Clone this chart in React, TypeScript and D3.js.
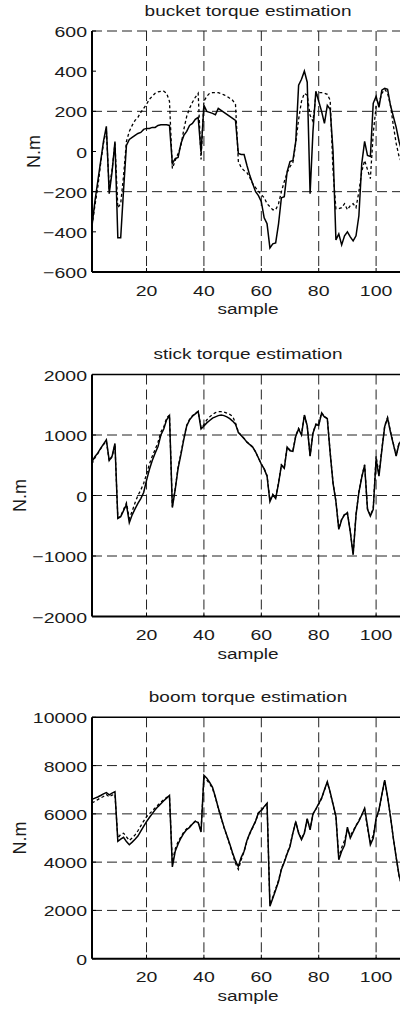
import React from "react";
import * as d3 from "d3";

// sample index 1..110
const samples: number[] = d3.range(1, 111);

// ---------- bucket ----------
const bucketMeasured: number[] = [
  -370, -250, -150, -50, 50, 125, -210, -100, 50, -430,
  -430, -190, 30, 60, 70, 80, 90, 95, 110, 115,
  115, 120, 120, 130, 133, 133, 133, 130, -60, -35,
  -30, 40, 80, 100, 130, 140, 160, 170, -5, 230,
  200, 195, 190, 183, 215, 205, 195, 185, 175, 165,
  155, -10, -15, -15, -70, -120, -160, -200, -220, -250,
  -330, -360, -480, -460, -455, -360, -230, -225, -100, -50,
  -45, 50, 330, 360, 400, 345, -210, 100, 300, 250,
  200, 140, 230, 210, 0, -440, -410, -465, -420, -400,
  -425, -445, -420, -320, -60, 50, -20, -25, 240, 275,
  220, 305, 315, 310, 230, 175, 120, 50, 0, -50,
];
const bucketEstimated: number[] = [
  -370, -270, -180, -60, 40, 110, -190, -90, 40, -280,
  -260, -120, 50, 100, 130, 155, 170, 195, 215, 235,
  260, 275, 290, 297, 300, 300, 290, 250, -85, -45,
  -10, 30, 110, 175, 215, 245, 270, 290, -40, 250,
  275, 290, 293, 293, 293, 288, 282, 275, 265, 255,
  235, -50, -80, -95, -105, -130, -160, -180, -198, -215,
  -230, -260, -275, -290, -290, -260, -200, -150, -105, -75,
  -55, 43, 160, 250, 290, 280, 180, 150, 280, 293,
  293, 290, 285, 255, -100, -285, -285, -280, -260, -290,
  -270, -260, -280, -200, -100, -45, -90, -135, 90, 225,
  240, 290, 310, 290, 230, 130, 40, -25, -60, -80,
];
const bucketTicks: number[] = [-600, -400, -200, 0, 200, 400, 600];
const bucketGrid: number[] = [-200, 200, 600];

// ---------- stick ----------
const stickMeasured: number[] = [
  560, 640, 700, 780, 850, 920, 580, 650, 860, -380,
  -350, -250, -150, -450, -320, -220, -130, -50, 50, 250,
  430, 580, 700, 810, 1000, 1100, 1250, 1320, -200, 100,
  450, 680, 930, 1150, 1250, 1310, 1350, 1390, 1100, 1150,
  1200, 1240, 1280, 1300, 1320, 1330, 1320, 1300, 1270, 1230,
  1180, 1040, 990, 940, 880, 840, 800, 720, 620, 520,
  440, 320, -100, 10, -50, 200, 500, 450, 800, 740,
  730, 980, 1100, 1000, 1330, 1150, 650, 1030, 1170, 1160,
  1360, 1300, 1270, 700, 200, -100, -560, -400, -320, -290,
  -600, -980, -320, 50, 300, 500, -230, -340, -230, 600,
  320, 750, 1140, 1280, 1050, 850, 650, 860, 900, 850,
];
const stickEstimated: number[] = [
  520, 620, 690, 770, 840, 900, 570, 640, 840, -370,
  -340, -230, -120, -380, -260, -120, 0, 90, 200, 350,
  520, 650, 760, 880, 1050, 1130, 1280, 1330, -180, 120,
  470, 700, 950, 1160, 1260, 1320, 1360, 1390, 1120, 1170,
  1250, 1300, 1340, 1370, 1385, 1385, 1380, 1360, 1340, 1310,
  1200, 1050, 995, 945, 885, 845, 800, 720, 620, 520,
  440, 330, -80, 20, -40, 210, 510, 460, 800, 750,
  740, 990, 1110, 1010, 1330, 1150, 660, 1040, 1180, 1170,
  1370, 1310, 1270, 710, 210, -90, -550, -390, -310, -280,
  -590, -970, -310, 60, 310, 510, -220, -330, -210, 650,
  350, 770, 1150, 1290, 1060, 860, 660, 870, 910, 860,
];
const stickTicks: number[] = [-2000, -1000, 0, 1000, 2000];
const stickGrid: number[] = [-1000, 0, 1000];

// ---------- boom ----------
const boomMeasured: number[] = [
  6600, 6650, 6700, 6760, 6830, 6880, 6790, 6860, 6920, 4860,
  4950, 5030, 4850, 4720, 4830, 4950, 5080, 5280, 5480, 5680,
  5850, 6010, 6170, 6300, 6420, 6540, 6650, 6760, 3800, 4450,
  4750, 5000, 5200, 5350, 5440, 5580, 5690, 5640, 5250, 7600,
  7480, 7300, 7100, 6700, 6250, 5850, 5450, 5100, 4750, 4380,
  4050, 3820, 4200, 4450, 4900, 5200, 5450, 5700, 6050, 6150,
  6300, 6440, 2170, 2500, 2850, 3200, 3700, 4000, 4350, 4650,
  5200, 5680, 5200, 4930, 5200, 5800, 5340, 6000, 6200, 6420,
  6650, 7000, 7330, 6900, 6400, 5900, 4100, 4450, 4700, 5450,
  5000, 5250, 5500, 5700, 5950, 6230, 5500, 4720, 4990, 5820,
  6170, 6800, 7400, 6700, 5900, 5000, 4200, 3450, 3000, 2700,
];
const boomEstimated: number[] = [
  6450, 6520, 6590, 6660, 6720, 6800, 6700, 6780, 6800, 5000,
  5150, 5200, 5050, 4900, 5000, 5130, 5300, 5500, 5700, 5880,
  6000, 6120, 6250, 6370, 6480, 6590, 6680, 6700, 4000, 4550,
  4850, 5050, 5250, 5380, 5470, 5600, 5700, 5640, 5300, 7500,
  7400, 7250, 7050, 6680, 6230, 5830, 5430, 5080, 4720, 4330,
  3950, 3700, 4100, 4430, 4880, 5180, 5430, 5680, 6030, 6130,
  6280, 6420, 2250, 2560, 2900, 3250, 3730, 4030, 4380, 4680,
  5230, 5650, 5230, 4960, 5230, 5780, 5370, 5980, 6190, 6400,
  6640, 6980, 7300, 6880, 6380, 5880, 4200, 4600, 4900, 5350,
  5100, 5300, 5520, 5720, 5960, 6200, 5400, 4850, 5100, 5750,
  6150, 6780, 7380, 6690, 5890, 4990, 4190, 3440, 2990, 2690,
];
const boomTicks: number[] = [0, 2000, 4000, 6000, 8000, 10000];
const boomGrid: number[] = [2000, 4000, 6000, 8000];

const xTicks: number[] = [20, 40, 60, 80, 100];
const titles: string[] = ["bucket torque estimation", "stick torque estimation", "boom torque estimation"];
const yLabel = "N.m";
const xLabel = "sample";

type Panel = {
  title: string;
  measured: number[];
  estimated: number[];
  domain: [number, number];
  ticks: number[];
  grid: number[];
  top: number;
  bottom: number;
  ylabelX: number;
  topDashed: boolean;
};

const panels: Panel[] = [
  { title: titles[0], measured: bucketMeasured, estimated: bucketEstimated, domain: [-600, 600], ticks: bucketTicks, grid: bucketGrid, top: 31, bottom: 272, ylabelX: 39.5, topDashed: true },
  { title: titles[1], measured: stickMeasured, estimated: stickEstimated, domain: [-2000, 2000], ticks: stickTicks, grid: stickGrid, top: 374.5, bottom: 616.5, ylabelX: 25.5, topDashed: false },
  { title: titles[2], measured: boomMeasured, estimated: boomEstimated, domain: [0, 10000], ticks: boomTicks, grid: boomGrid, top: 717.3, bottom: 958.7, ylabelX: 25.5, topDashed: false },
];

const FONT = "'Liberation Sans', Arial, Helvetica, sans-serif";
const TEXT = "#1a1a1a";
const fmt = (v: number) => (v < 0 ? "\u2212" + Math.abs(v) : String(v));

const x = d3.scaleLinear().domain([1, 110]).range([92, 404.8]);

function PanelView({ p }: { p: Panel }) {
  const y = d3.scaleLinear().domain(p.domain).range([p.bottom, p.top]);
  const line = d3
    .line<number>()
    .x((_, i) => x(samples[i]))
    .y((d) => y(d));
  const left = x.range()[0];
  const right = 420;
  const mid = (p.top + p.bottom) / 2;
  return (
    <g>
      {p.grid.map((g) => (
        <line key={"hg" + g} x1={left} x2={right} y1={y(g)} y2={y(g)} stroke="#222" strokeWidth={1} strokeDasharray="10,5" />
      ))}
      {xTicks.map((t) => (
        <line key={"vg" + t} x1={x(t)} x2={x(t)} y1={p.top} y2={p.bottom} stroke="#222" strokeWidth={1} strokeDasharray="10,5" />
      ))}
      {!p.topDashed && <line x1={left} x2={right} y1={p.top} y2={p.top} stroke="#000" strokeWidth={1.5} />}
      <path d={line(p.estimated) || ""} fill="none" stroke="#000" strokeWidth={1.3} strokeDasharray="3,2.5" />
      <path d={line(p.measured) || ""} fill="none" stroke="#000" strokeWidth={1.5} />
      <line x1={left} x2={left} y1={p.top} y2={p.bottom} stroke="#000" strokeWidth={2} />
      <line x1={left} x2={right} y1={p.bottom} y2={p.bottom} stroke="#000" strokeWidth={2} />
      {p.ticks.map((t) => (
        <g key={"yt" + t}>
          <line x1={left} x2={left + 4} y1={y(t)} y2={y(t)} stroke="#000" strokeWidth={1} />
          <text
            transform={`translate(87,${y(t) + 6}) scale(1,0.78)`}
            textAnchor="end"
            fontFamily={FONT}
            fontSize={19.5}
            fill={TEXT}
          >
            {fmt(t)}
          </text>
        </g>
      ))}
      {xTicks.map((t) => (
        <g key={"xt" + t}>
          <line x1={x(t)} x2={x(t)} y1={p.bottom} y2={p.bottom - 4} stroke="#000" strokeWidth={1} />
          <text
            transform={`translate(${x(t)},${p.bottom + 23.5}) scale(1,0.78)`}
            textAnchor="middle"
            fontFamily={FONT}
            fontSize={19.5}
            fill={TEXT}
          >
            {t}
          </text>
        </g>
      ))}
      <text
        transform={`translate(248,${p.bottom + 42}) scale(1,0.74)`}
        textAnchor="middle"
        fontFamily={FONT}
        fontSize={19}
        fill={TEXT}
      >
        {xLabel}
      </text>
      <text
        transform={`translate(248,${p.top - 15.5}) scale(1,0.74)`}
        textAnchor="middle"
        fontFamily={FONT}
        fontSize={19}
        fill={TEXT}
      >
        {p.title}
      </text>
      <text
        transform={`translate(${p.ylabelX},${mid}) rotate(-90)`}
        textAnchor="middle"
        fontFamily={FONT}
        fontSize={18}
        fill={TEXT}
      >
        {yLabel}
      </text>
    </g>
  );
}

export default function App() {
  return (
    <svg
      width={400}
      height={1010}
      style={{ position: "absolute", left: 0, top: 0, background: "#fff" }}
    >
      <rect x={0} y={0} width={400} height={1010} fill="#fff" />
      {panels.map((p, i) => (
        <PanelView key={i} p={p} />
      ))}
    </svg>
  );
}
